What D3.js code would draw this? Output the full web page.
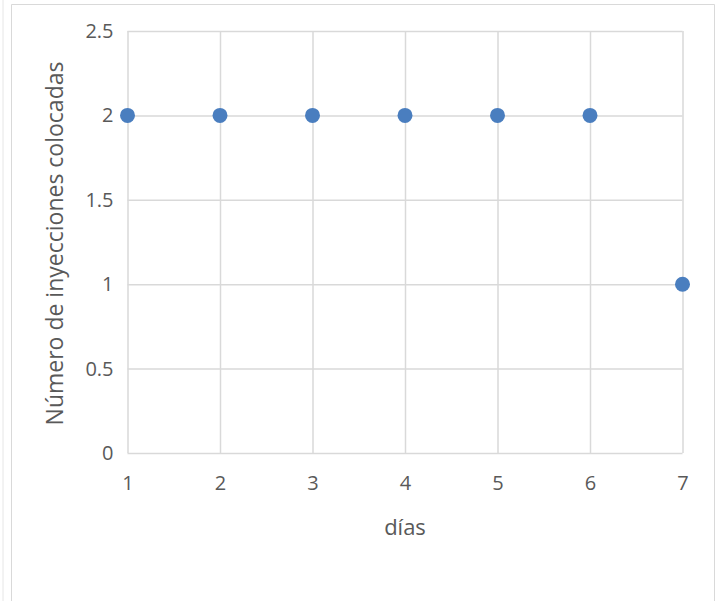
<!DOCTYPE html>
<html>
<head>
<meta charset="utf-8">
<script src="https://cdn.jsdelivr.net/npm/d3@7"></script>
<style>
  html, body { margin: 0; padding: 0; background: #fff; }
  svg { display: block; font-family: "Open Sans", "Noto Sans", sans-serif; }
</style>
</head>
<body>
<svg id="chart" width="723" height="601"></svg>
<script>
// Daily count of injections
const dias = [1, 2, 3, 4, 5, 6, 7];
const inyecciones = [2, 2, 2, 2, 2, 2, 1];
const xTicks = [1, 2, 3, 4, 5, 6, 7];
const yTicks = [0, 0.5, 1, 1.5, 2, 2.5];

const svg = d3.select("#chart");
const W = 723, H = 601;
const plot = { left: 127.5, right: 682.5, top: 31, bottom: 453 };
const FONT = '"Open Sans", "Noto Sans", sans-serif';

// Outer chart frame
svg.append("line").attr("x1", 3).attr("x2", 3).attr("y1", 0).attr("y2", H)
  .attr("stroke", "#e6e6e6").attr("stroke-width", 1);
svg.append("path")
  .attr("d", `M11.5,${H} V4.5 H714.5 V${H}`)
  .attr("fill", "none").attr("stroke", "#d9d9d9").attr("stroke-width", 1);

const x = d3.scaleLinear().domain([1, 7]).range([plot.left, plot.right]);
const y = d3.scaleLinear().domain([0, 2.5]).range([plot.bottom, plot.top]);

const grid = "#d9d9d9";

// Vertical gridlines and day labels
svg.append("g")
  .attr("transform", `translate(0,${plot.bottom})`)
  .call(d3.axisBottom(x).tickValues(xTicks).tickSize(-(plot.bottom - plot.top)).tickFormat(d3.format("d")).tickPadding(23))
  .call(g => g.select(".domain").remove())
  .call(g => g.selectAll(".tick line").attr("stroke", grid).attr("stroke-width", 1.5))
  .call(g => g.selectAll(".tick text").attr("fill", "#595959")
    .style("font-family", FONT).style("font-size", "20px"));

// Horizontal gridlines and count labels
svg.append("g")
  .attr("transform", `translate(${plot.left},0)`)
  .call(d3.axisLeft(y).tickValues(yTicks).tickSize(-(plot.right - plot.left)).tickFormat(d => String(d)).tickPadding(14))
  .call(g => g.select(".domain").remove())
  .call(g => g.selectAll(".tick line").attr("stroke", grid).attr("stroke-width", 1.5))
  .call(g => g.selectAll(".tick text").attr("fill", "#595959")
    .style("font-family", FONT).style("font-size", "20px"));

// Points
svg.append("g").selectAll("circle")
  .data(dias.map((d, i) => ({ d, v: inyecciones[i] })))
  .join("circle")
  .attr("cx", p => x(p.d))
  .attr("cy", p => y(p.v))
  .attr("r", 7.5)
  .attr("fill", "#4a7ebf");

// Axis titles
svg.append("text")
  .attr("x", (plot.left + plot.right) / 2)
  .attr("y", 535)
  .attr("text-anchor", "middle")
  .attr("fill", "#595959")
  .style("font-size", "22px")
  .text("días");

svg.append("text")
  .attr("transform", `translate(63,243.5) rotate(-90)`)
  .attr("text-anchor", "middle")
  .attr("fill", "#595959")
  .style("font-size", "23px")
  .text("Número de inyecciones colocadas");
</script>
</body>
</html>
